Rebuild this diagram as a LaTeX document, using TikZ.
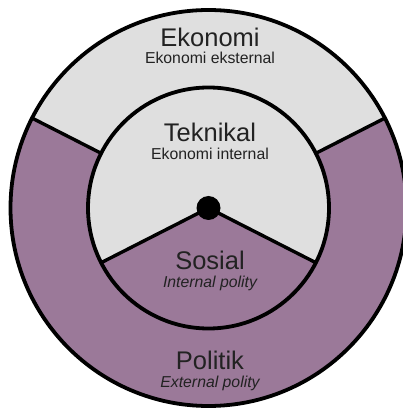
\documentclass[tikz,border=0pt]{standalone}
\usepackage{fontspec}
\usetikzlibrary{calc}
\setmainfont{Liberation Sans}
\definecolor{ringgray}{HTML}{DFDFDF}
\definecolor{polityviolet}{HTML}{9B7999}
\definecolor{inkdark}{HTML}{222222}
\begin{document}
\begin{tikzpicture}[x=1pt,y=1pt,
  outline/.style={draw=black,line width=3.8pt},
  divider/.style={draw=black,line width=3.4pt,line cap=round},
  bigtitle/.style={anchor=base,text=inkdark,font=\fontsize{25.5}{28}\selectfont,inner sep=0pt},
  subtitle/.style={anchor=base,text=inkdark,font=\fontsize{15.8}{18}\selectfont,inner sep=0pt},
  subitalic/.style={subtitle,font=\fontsize{15.8}{18}\selectfont\itshape}]
  \useasboundingbox (0,0) rectangle (403,408);
  \coordinate (c) at (208.5,200);
  \def\Ro{198}
  \def\Ri{120.5}
  % outer ring: violet base, grey upper band
  \fill[polityviolet] (c) circle[radius=\Ro];
  \fill[ringgray] (c) -- ++(27:\Ro) arc[start angle=27,end angle=153,radius=\Ro] -- cycle;
  % inner disc: grey, violet lower wedge
  \fill[ringgray] (c) circle[radius=\Ri];
  \fill[polityviolet] (c) -- ++(207:\Ri) arc[start angle=207,end angle=333,radius=\Ri] -- cycle;
  % outlines
  \draw[outline] (c) circle[radius=\Ro];
  \draw[outline] (c) circle[radius=\Ri];
  % dividers of the outer ring
  \coordinate (oli) at ($(c)+(153:\Ri)$);
  \coordinate (olo) at ($(c)+(153:\Ro)$);
  \coordinate (ori) at ($(c)+(27:\Ri)$);
  \coordinate (oro) at ($(c)+(27:\Ro)$);
  \draw[divider] (oli) -- (olo);
  \draw[divider] (ori) -- (oro);
  % dividers of the inner disc
  \coordinate (il) at ($(c)+(207:\Ri)$);
  \coordinate (ir) at ($(c)+(333:\Ri)$);
  \draw[divider] (c) -- (il);
  \draw[divider] (c) -- (ir);
  \fill[black] (c) circle[radius=12];
  % labels
  \node[bigtitle] (eko) at (210,361) {Ekonomi};
  \node[subtitle] (ekosub) at (210,344) {Ekonomi eksternal};
  \node[bigtitle] (tek) at (210,266) {Teknikal};
  \node[subtitle] (teksub) at (210,248) {Ekonomi internal};
  \node[bigtitle] (sos) at (210,138) {Sosial};
  \node[subitalic] (sossub) at (210,120) {Internal polity};
  \node[bigtitle] (pol) at (210,38.5) {Politik};
  \node[subitalic] (polsub) at (210,20.5) {External polity};
\end{tikzpicture}
\end{document}
